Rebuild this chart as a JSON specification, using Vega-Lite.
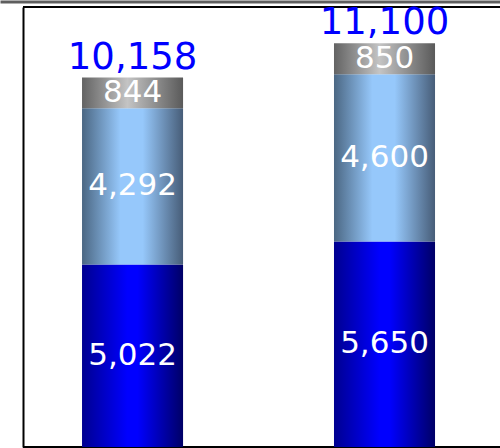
{
  "$schema": "https://vega.github.io/schema/vega-lite/v6.json",
  "width": 500,
  "height": 440,
  "autosize": {"type": "none"},
  "padding": {"left": 0, "top": 7, "right": 0, "bottom": 1},
  "background": "white",
  "config": {
    "view": {"stroke": "black", "strokeWidth": 2, "strokeDash": [0, 23, 477, 440, 477, 463]},
    "axisY": {"domainColor": "black", "domainWidth": 2, "ticks": false, "labels": false, "grid": false, "offset": -23}
  },
  "data": {
    "values": [
      {"cat": "1", "seg": "a", "value": 5022},
      {"cat": "1", "seg": "b", "value": 4292},
      {"cat": "1", "seg": "c", "value": 844},
      {"cat": "2", "seg": "a", "value": 5650},
      {"cat": "2", "seg": "b", "value": 4600},
      {"cat": "2", "seg": "c", "value": 850}
    ]
  },
  "transform": [
    {"stack": "value", "groupby": ["cat"], "sort": [{"field": "seg", "order": "ascending"}], "as": ["v0", "v1"]},
    {"calculate": "(datum.v0 + datum.v1) / 2", "as": "vmid"}
  ],
  "encoding": {
    "x": {
      "field": "cat", "type": "nominal",
      "scale": {"paddingInner": 0.599, "paddingOuter": 0.2917, "align": 0.558},
      "axis": {"orient": "top", "offset": 5.5, "domainColor": "#5e5e5e", "domainWidth": 3, "ticks": false, "labels": false, "title": null, "grid": false}
    }
  },
  "layer": [
    {
      "mark": {"type": "bar"},
      "encoding": {
        "y": {"field": "v0", "type": "quantitative", "scale": {"domain": [0, 12100], "nice": false, "zero": true}, "axis": {"title": null}},
        "y2": {"field": "v1"},
        "fill": {
          "condition": [
            {"test": "datum.seg === 'a'", "value": {"gradient": "linear", "x1": 0, "x2": 1, "y1": 0, "y2": 0, "stops": [{"offset": 0, "color": "#000090"}, {"offset": 0.45, "color": "#0000ff"}, {"offset": 0.55, "color": "#0000ff"}, {"offset": 1, "color": "#000066"}]}},
            {"test": "datum.seg === 'b'", "value": {"gradient": "linear", "x1": 0, "x2": 1, "y1": 0, "y2": 0, "stops": [{"offset": 0, "color": "#4b6783"}, {"offset": 0.38, "color": "#96c8fb"}, {"offset": 0.6, "color": "#96c8fb"}, {"offset": 1, "color": "#475d78"}]}}
          ],
          "value": {"gradient": "linear", "x1": 0, "x2": 1, "y1": 0, "y2": 0, "stops": [{"offset": 0, "color": "#636363"}, {"offset": 0.45, "color": "#c4c4c4"}, {"offset": 1, "color": "#5a5a5a"}]}
        }
      }
    },
    {
      "mark": {"type": "text", "color": "white", "font": "DejaVu Sans", "fontSize": 31, "fontWeight": "normal", "baseline": "middle", "align": "center"},
      "encoding": {
        "y": {"field": "vmid", "type": "quantitative", "axis": {"title": null}},
        "text": {"field": "value", "type": "quantitative", "format": ","}
      }
    },
    {
      "mark": {"type": "text", "color": "#0000ff", "font": "DejaVu Sans", "fontSize": 37, "fontWeight": "normal", "baseline": "alphabetic", "align": "center", "dy": -9},
      "encoding": {
        "y": {"aggregate": "sum", "field": "value", "type": "quantitative", "axis": {"title": null}},
        "text": {"aggregate": "sum", "field": "value", "type": "quantitative", "format": ","}
      }
    }
  ]
}
